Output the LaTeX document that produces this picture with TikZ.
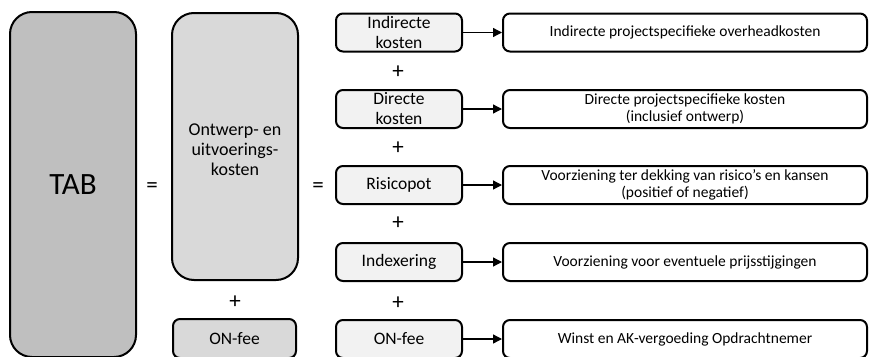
\documentclass[tikz,border=0pt]{standalone}
\usepackage{fontspec}
\setmainfont{Carlito}
\usetikzlibrary{arrows.meta}
\tikzset{
  box/.style={draw=black, line width=2pt, inner sep=0pt, align=center},
  bigbox/.style={box, rounded corners=22pt},
  smallbox/.style={box, rounded corners=7pt},
  midbox/.style={smallbox, fill=grayF2, minimum width=126pt, minimum height=38pt, font=\fontsize{17.5}{20}\selectfont},
  descbox/.style={smallbox, fill=white, minimum width=364pt, minimum height=38pt, font=\fontsize{15.5}{17.5}\selectfont},
  sym/.style={inner sep=0pt, font=\fontsize{23}{23}\selectfont},
  link/.style={line width=1.3pt, -{Triangle[length=9pt,width=9pt]}}
}
\definecolor{grayBF}{HTML}{BFBFBF}
\definecolor{grayD9}{HTML}{D9D9D9}
\definecolor{grayF2}{HTML}{F2F2F2}
\begin{document}
\begin{tikzpicture}[x=1pt,y=-1pt]
\useasboundingbox (0,0) rectangle (869,356);
\node[bigbox, fill=grayBF, minimum width=126pt, minimum height=345pt, font=\fontsize{31}{33}\selectfont] (tab) at (73,184.5) {TAB};
\node[bigbox, fill=grayD9, minimum width=126pt, minimum height=267pt] (ou) at (235,146.5) {};
\node[align=center, inner sep=0pt, font=\fontsize{18}{20}\selectfont] (outxt) at (235,150) {Ontwerp- en\\uitvoerings-\\kosten};
\node[smallbox, fill=grayD9, minimum width=123pt, minimum height=39pt, font=\fontsize{17.5}{20}\selectfont] (onl) at (234.5,338.5) {ON-fee};
\node[sym] (eq1) at (152,188) {=};
\node[sym] (eq2) at (318,188) {=};
\node[sym] (pl0) at (235,302) {+};

\node[midbox] (m1) at (399,32.5) {Indirecte\\kosten};
\node[midbox] (m2) at (399,109) {Directe\\kosten};
\node[midbox] (m3) at (399,185) {Risicopot};
\node[midbox] (m4) at (399,262) {Indexering};
\node[midbox] (m5) at (399,339) {ON-fee};

\node[sym] (pl1) at (398,72) {+};
\node[sym] (pl2) at (398,148) {+};
\node[sym] (pl3) at (398,223) {+};
\node[sym] (pl4) at (398,303) {+};

\node[descbox] (d1) at (685,32.5) {Indirecte projectspecifieke overheadkosten};
\node[descbox] (d2) at (685,109) {Directe projectspecifieke kosten\\(inclusief ontwerp)};
\node[descbox] (d3) at (685,185) {Voorziening ter dekking van risico’s en kansen\\(positief of negatief)};
\node[descbox] (d4) at (685,262) {Voorziening voor eventuele prijsstijgingen};
\node[descbox] (d5) at (685,339) {Winst en AK-vergoeding Opdrachtnemer};

\foreach \i in {1,...,5} \draw[link] (m\i) -- (d\i);
\end{tikzpicture}
\end{document}
